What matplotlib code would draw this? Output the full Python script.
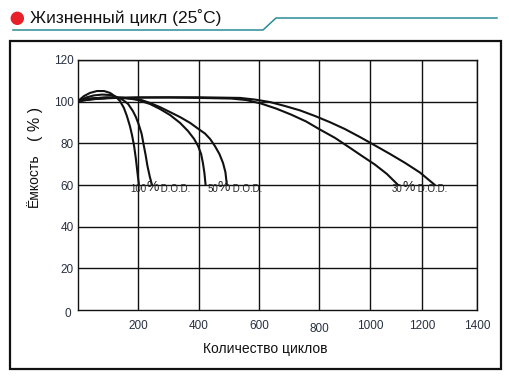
import matplotlib
matplotlib.use("Agg")
import matplotlib.pyplot as plt
import numpy as np
from matplotlib.scale import FuncScale

plt.rcParams['font.family'] = ['Liberation Sans', 'DejaVu Sans']

# capacity (%) vs number of cycles
dod100a_x = [0, 20, 40, 63, 87, 107, 127, 140, 153, 163, 173, 180, 187, 193, 198, 203]
dod100a_y = [100.3, 102.7, 104.2, 105.1, 105.1, 104.2, 102.2, 100.3, 97.0, 93.1, 88.3, 84.0,
             78.7, 72.5, 66.2, 60.0]
dod100b_x = [0, 27, 53, 80, 107, 130, 150, 167, 183, 193, 203, 212, 218, 225, 231, 239, 246]
dod100b_y = [100.3, 102.0, 103.0, 103.4, 103.2, 102.2, 100.8, 98.9, 95.5, 92.6, 88.8, 84.5,
             79.7, 74.4, 69.1, 63.8, 60.0]
dod50a_x = [0, 40, 90, 140, 180, 200, 239, 272, 305, 338, 364, 384, 397, 407, 413, 418, 422]
dod50a_y = [100.3, 101.5, 102.0, 101.9, 101.3, 100.8, 98.9, 96.5, 93.6, 89.8, 85.9, 82.1,
            78.7, 74.9, 70.6, 65.8, 60.0]
dod50b_x = [0, 50, 100, 150, 207, 239, 272, 305, 338, 371, 403, 420, 437, 453, 468, 480,
            488, 493]
dod50b_y = [100.3, 101.6, 102.0, 101.9, 101.0, 99.4, 97.4, 95.0, 92.6, 89.8, 86.4, 84.7,
            82.1, 78.7, 74.9, 70.6, 66.2, 60.0]
dod30a_x = [0, 50, 100, 200, 300, 400, 507, 557, 607, 657, 707, 757, 804, 863, 922, 969,
            1019, 1065, 1108]
dod30a_y = [100.3, 101.2, 101.7, 102.0, 102.0, 101.8, 101.5, 100.8, 99.1, 96.7, 93.8, 90.5,
            86.6, 82.6, 77.8, 73.9, 69.8, 65.3, 60.0]
dod30b_x = [0, 50, 100, 200, 300, 400, 537, 587, 637, 687, 737, 787, 842, 901, 961, 1019,
            1077, 1135, 1192, 1247]
dod30b_y = [100.3, 101.2, 101.7, 102.0, 102.1, 102.1, 101.8, 101.0, 99.8, 97.9, 95.8, 93.1,
            90.2, 86.9, 83.0, 79.0, 74.9, 70.6, 66.0, 60.0]

curves = [(dod100a_x, dod100a_y), (dod100b_x, dod100b_y),
          (dod50a_x, dod50a_y), (dod50b_x, dod50b_y),
          (dod30a_x, dod30a_y), (dod30b_x, dod30b_y)]

dod_labels = ['100', '50', '30']
dod_label_x = [173, 427, 1085]

x_ticks = [200, 400, 600, 800, 1000, 1200, 1400]
y_ticks = [20, 40, 60, 80, 100, 120]

# the original grid is not evenly spaced
grid_val = np.array([0, 200, 400, 600, 800, 1000, 1200, 1400])
grid_pos = np.array([78, 138, 199, 259, 319, 370, 422, 477])

tick_col = '#283040'

fig = plt.figure(figsize=(5.1, 3.77), dpi=100)

# decoration layer in pixel coordinates
bg = fig.add_axes([0, 0, 1, 1])
bg.set_xlim(0, 510)
bg.set_ylim(377, 0)
bg.axis('off')
bg.add_patch(plt.Rectangle((10, 40.5), 491, 328.5, fill=False, lw=1.6, ec='#111111'))
bg.plot([13, 263, 276, 497], [30, 30, 18, 18], color='#2b8c99', lw=1.1)
bg.add_patch(plt.Circle((17.3, 18.3), 6, color='#e8202a'))
bg.text(30, 18, 'Жизненный цикл (25˚C)', fontsize=12.5, va='center', ha='left', color='#111111')

ax = fig.add_axes([78 / 510, 1 - 310 / 377, 399 / 510, 250 / 377])
ax.set_xscale(FuncScale(ax, (lambda v: np.interp(v, grid_val, grid_pos),
                             lambda p: np.interp(p, grid_pos, grid_val))))
ax.set_xlim(0, 1400)
ax.set_ylim(0, 120)

ax.set_xticks(x_ticks)
ax.set_yticks(y_ticks)
ax.set_xticklabels([])
ax.tick_params(length=0)
ax.tick_params(axis='y', labelsize=8.5, labelcolor=tick_col, pad=3)
ax.grid(True, color='#111111', lw=1.0)
for s in ax.spines.values():
    s.set_linewidth(1.0)
    s.set_color('#111111')

for cx, cy in curves:
    ax.plot(cx, cy, color='#111111', lw=1.5, solid_capstyle='round', solid_joinstyle='round')

# x tick labels (800 sits a bit higher in the original)
trans = ax.get_xaxis_transform()
for v in x_ticks:
    dy = -0.052 if v == 800 else -0.04
    ax.text(v, dy, str(v), transform=trans, ha='center', va='top',
            fontsize=8.5, color=tick_col)
ax.text(-0.018, -0.015, '0', transform=ax.transAxes, ha='right', va='center',
        fontsize=8.5, color=tick_col)

for lab, lx in zip(dod_labels, dod_label_x):
    t1 = ax.text(lx, 56.5, lab, fontsize=7, va='baseline', ha='left', color='#222222')
    t2 = ax.annotate('%', xy=(1, 0), xycoords=t1, va='bottom', ha='left',
                     fontsize=10, color='#222222')
    ax.annotate(' D.O.D.', xy=(1, 0), xycoords=t2, va='bottom', ha='left',
                fontsize=7, color='#222222')

fig.text(265 / 510, 1 - 349 / 377, 'Количество циклов', ha='center', va='center',
         fontsize=10, color='#111111')
fig.text(34 / 510, 1 - 180 / 377, 'Ёмкость', rotation=90, ha='center', va='center',
         fontsize=10, color='#111111')
fig.text(36 / 510, 1 - 124 / 377, '( % )', rotation=90, ha='center', va='center',
         fontsize=11.5, color='#111111')

fig.savefig('out.png', dpi=100)
